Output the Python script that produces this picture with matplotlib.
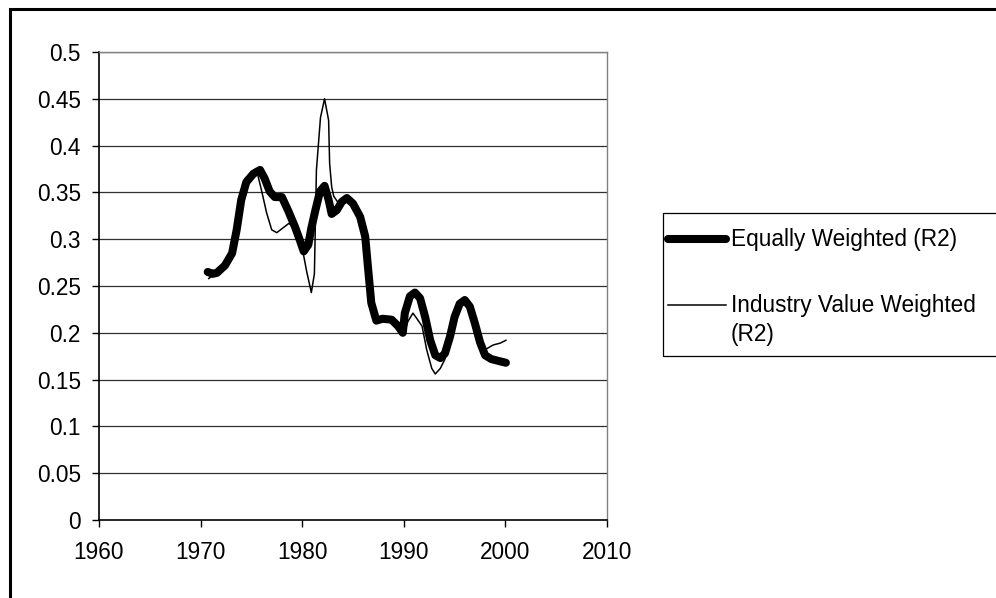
import matplotlib
matplotlib.use("Agg")
import matplotlib.pyplot as plt
from matplotlib.lines import Line2D
from matplotlib.patches import Rectangle

plt.rcParams['font.family'] = ['Liberation Sans', 'DejaVu Sans']

# ---- data ----
eq_years = [1970.7, 1971.2, 1971.6, 1972.4, 1973.1, 1973.55, 1974.0, 1974.5, 1975.2, 1975.85,
            1976.3, 1976.8, 1977.3, 1978.0, 1978.6, 1979.3, 1979.8, 1980.15, 1980.6, 1980.9,
            1981.3, 1981.75, 1982.2, 1982.6, 1982.9, 1983.4, 1983.9, 1984.4, 1985.0, 1985.7,
            1986.2, 1986.5, 1986.8, 1987.3, 1987.9, 1988.8, 1989.45, 1989.9, 1990.1, 1990.6,
            1991.1, 1991.6, 1992.1, 1992.6, 1993.1, 1993.6, 1994.05, 1994.55, 1995.0, 1995.5,
            1996.0, 1996.5, 1997.0, 1997.5, 1998.0, 1998.6, 1999.3, 2000.05]
eq_values = [0.265, 0.263, 0.264, 0.272, 0.285, 0.310, 0.342, 0.361, 0.370, 0.374,
             0.365, 0.351, 0.345, 0.345, 0.331, 0.313, 0.298, 0.287, 0.294, 0.312,
             0.331, 0.351, 0.357, 0.342, 0.327, 0.331, 0.340, 0.344, 0.338, 0.324,
             0.303, 0.267, 0.232, 0.213, 0.215, 0.214, 0.207, 0.200, 0.221, 0.239,
             0.243, 0.237, 0.217, 0.192, 0.176, 0.173, 0.178, 0.196, 0.217, 0.231,
             0.235, 0.228, 0.210, 0.190, 0.176, 0.172, 0.170, 0.168]

ind_years = [1970.8, 1971.3, 1971.8, 1972.4, 1973.1, 1973.5, 1973.9, 1974.4, 1975.1, 1975.6,
             1976.0, 1976.5, 1977.0, 1977.5, 1978.1, 1978.7, 1979.2, 1979.7, 1980.1, 1980.45,
             1980.9, 1981.2, 1981.4, 1981.8, 1982.2, 1982.6, 1982.7, 1982.9, 1983.1, 1983.6,
             1984.3, 1985.0, 1985.7, 1986.2, 1986.5, 1986.8, 1987.3, 1987.9, 1988.4, 1988.8,
             1989.4, 1989.75, 1990.0, 1990.4, 1990.9, 1991.3, 1991.8, 1992.25, 1992.75, 1993.1,
             1993.6, 1994.05, 1994.55, 1995.0, 1995.5, 1996.0, 1996.5, 1997.0, 1997.5, 1998.0,
             1998.8, 1999.5, 2000.05]
ind_values = [0.258, 0.262, 0.265, 0.272, 0.287, 0.315, 0.348, 0.365, 0.372, 0.370,
              0.352, 0.328, 0.310, 0.307, 0.312, 0.317, 0.312, 0.300, 0.285, 0.265,
              0.243, 0.263, 0.374, 0.430, 0.450, 0.427, 0.381, 0.356, 0.346, 0.338,
              0.342, 0.336, 0.322, 0.300, 0.265, 0.230, 0.210, 0.214, 0.215, 0.213,
              0.206, 0.202, 0.198, 0.212, 0.221, 0.215, 0.207, 0.182, 0.162, 0.156,
              0.162, 0.172, 0.196, 0.217, 0.231, 0.235, 0.228, 0.210, 0.190, 0.182,
              0.187, 0.189, 0.192]

series_labels = ["Equally Weighted (R2)", "Industry Value Weighted\n(R2)"]
x_ticks = [1960, 1970, 1980, 1990, 2000, 2010]
y_ticks = [0, 0.05, 0.1, 0.15, 0.2, 0.25, 0.3, 0.35, 0.4, 0.45, 0.5]
y_tick_labels = ["0", "0.05", "0.1", "0.15", "0.2", "0.25", "0.3", "0.35", "0.4", "0.45", "0.5"]

# ---- figure ----
W, H = 996, 598
fig = plt.figure(figsize=(W / 100, H / 100), dpi=100)

def fx(px):
    return px / W

def fy(py):
    return 1 - py / H

ax = fig.add_axes([fx(99), fy(520), fx(607) - fx(99), fy(52) - fy(520)])
ax.set_xlim(1960, 2010)
ax.set_ylim(0, 0.5)

ax.set_xticks(x_ticks)
ax.set_xticklabels([str(t) for t in x_ticks])
ax.set_yticks(y_ticks)
ax.set_yticklabels(y_tick_labels)
ax.tick_params(axis='both', labelsize=16.3, direction='out', length=5, width=1, color='black')
ax.tick_params(axis='y', pad=8)
ax.tick_params(axis='x', pad=10)

for y in y_ticks[1:]:
    ax.axhline(y, color='#303030', lw=0.9, zorder=1)

for s in ['left', 'bottom']:
    ax.spines[s].set_color('black')
    ax.spines[s].set_linewidth(1.2)
for s in ['right', 'top']:
    ax.spines[s].set_color('#808080')
    ax.spines[s].set_linewidth(1.0)

ax.plot(eq_years, eq_values, color='black', lw=5.8, solid_joinstyle='round',
        solid_capstyle='round', zorder=3)
ax.plot(ind_years, ind_values, color='black', lw=1.1, solid_joinstyle='round', zorder=4)

# outer chart frame
fig.add_artist(Rectangle((fx(9.5), fy(1000)), fx(1200), fy(9) - fy(1000),
                         transform=fig.transFigure, fill=False, lw=2.2,
                         edgecolor='black', clip_on=False))

# legend box (manual, to mimic the spreadsheet layout)
fig.add_artist(Rectangle((fx(662.5), fy(356)), fx(400), fy(212.5) - fy(356),
                         transform=fig.transFigure, fill=False, lw=0.9,
                         edgecolor='black'))
fig.add_artist(Line2D([fx(668), fx(726)], [fy(239), fy(239)], transform=fig.transFigure,
                      color='black', lw=5.8, solid_capstyle='round'))
fig.text(fx(731), fy(239), series_labels[0], fontsize=16.3, va='center', ha='left')
fig.add_artist(Line2D([fx(668), fx(726)], [fy(305), fy(305)], transform=fig.transFigure,
                      color='black', lw=1.1))
fig.text(fx(731), fy(294), series_labels[1], fontsize=16.3, va='top', ha='left',
         linespacing=1.35)

fig.savefig("out.png", dpi=100)
